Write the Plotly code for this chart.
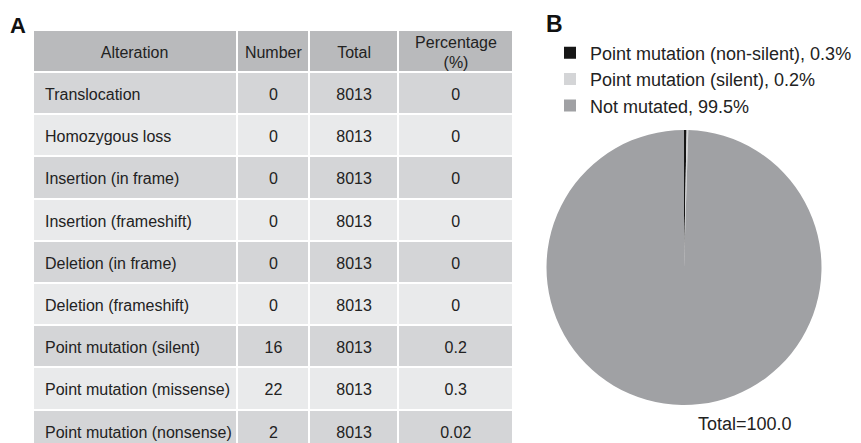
import plotly.graph_objects as go

# ---- data ----
alterations = [
    "Translocation", "Homozygous loss", "Insertion (in frame)", "Insertion (frameshift)",
    "Deletion (in frame)", "Deletion (frameshift)", "Point mutation (silent)",
    "Point mutation (missense)", "Point mutation (nonsense)",
]
numbers = [0, 0, 0, 0, 0, 0, 16, 22, 2]
totals = [8013] * 9
percentages = ["0", "0", "0", "0", "0", "0", "0.2", "0.3", "0.02"]
header_labels = ["Alteration", "Number", "Total", "Percentage", "(%)"]

pie_labels = ["Point mutation (non-silent)", "Point mutation (silent)", "Not mutated"]
pie_values = [0.3, 0.2, 99.5]
pie_colors = ["#161616", "#d4d5d7", "#a0a1a4"]

# ---- layout helpers (figure pixels; page has an 8px body margin) ----
W, H = 861, 470
OFF = 8


def px_x(p):
    return (p - OFF) / W


def px_y(p):
    return 1 - (p - OFF) / H


FONT = "Liberation Sans, Arial, sans-serif"
TXT = "#222222"
CLEAR = "rgba(0,0,0,0)"

col_edges = [33, 237, 310, 399, 514]          # page px
col_w = [b - a for a, b in zip(col_edges[:-1], col_edges[1:])]
TABLE_TOP = 30
HEAD_H = 42
ROW_H = 42.2
TEXT_SHIFT = 8

row_fill = ["#d4d5d7" if i % 2 == 0 else "#e9eaeb" for i in range(len(alterations))]
n = len(alterations)

fig = go.Figure()

# fills / grid
fig.add_trace(go.Table(
    domain=dict(x=[px_x(col_edges[0]), px_x(col_edges[-1])], y=[0, px_y(TABLE_TOP)]),
    columnwidth=col_w,
    header=dict(values=[""] * 4, fill_color="#b9babc",
                line=dict(color="white", width=2), height=HEAD_H,
                font=dict(family=FONT, size=16)),
    cells=dict(values=[[""] * n] * 4, fill_color=[row_fill] * 4,
               line=dict(color="white", width=2), height=ROW_H,
               font=dict(family=FONT, size=16)),
    hoverinfo="skip",
))


def text_table(x0, x1, top, header, cols, align, widths=None):
    return go.Table(
        domain=dict(x=[px_x(x0), px_x(x1)], y=[0, px_y(top)]),
        columnwidth=widths,
        header=dict(values=header, fill_color=CLEAR,
                    line=dict(color=CLEAR, width=2), height=HEAD_H, align=align,
                    font=dict(family=FONT, size=16, color=TXT)),
        cells=dict(values=cols, fill_color=CLEAR,
                   line=dict(color=CLEAR, width=2), height=ROW_H, align=align,
                   font=dict(family=FONT, size=16, color=TXT)),
        hoverinfo="skip",
    )


# Alteration column text (wider box so long labels do not wrap)
fig.add_trace(text_table(col_edges[0] + 4, col_edges[0] + 300, TABLE_TOP + TEXT_SHIFT,
                         [""], [alterations], "left"))
# Alteration header (centered in its column)
fig.add_trace(text_table(col_edges[0], col_edges[1], TABLE_TOP + TEXT_SHIFT,
                         [header_labels[0]], [[]], "center"))
# numeric columns
fig.add_trace(text_table(col_edges[1], col_edges[4], TABLE_TOP + TEXT_SHIFT,
                         header_labels[1:3] + [""], [numbers, totals, percentages],
                         "center", col_w[1:]))
# two-line header cell, one table per line
fig.add_trace(text_table(col_edges[3], col_edges[4], 27.5,
                         [header_labels[3]], [[]], "center"))
fig.add_trace(text_table(col_edges[3], col_edges[4], 47.5,
                         [header_labels[4]], [[]], "center"))

fig.add_trace(go.Pie(
    labels=[f"{l}, {v}%" for l, v in zip(pie_labels, pie_values)],
    values=pie_values,
    marker=dict(colors=pie_colors, line=dict(width=0)),
    sort=False,
    direction="clockwise",
    rotation=0,
    textinfo="none",
    domain=dict(x=[px_x(546), px_x(822)], y=[px_y(405), px_y(130)]),
    showlegend=True,
))

fig.add_annotation(text="<b>A</b>", x=px_x(8), y=px_y(25.5), xref="paper", yref="paper",
                   xanchor="left", yanchor="middle", showarrow=False,
                   font=dict(family=FONT, size=22, color="#111"))
fig.add_annotation(text="<b>B</b>", x=px_x(544), y=px_y(23.5), xref="paper", yref="paper",
                   xanchor="left", yanchor="middle", showarrow=False,
                   font=dict(family=FONT, size=23, color="#111"))
fig.add_annotation(text=f"Total={sum(pie_values):.1f}", x=px_x(745), y=px_y(424),
                   xref="paper", yref="paper", xanchor="center", yanchor="middle",
                   showarrow=False, font=dict(family=FONT, size=18, color=TXT))

fig.update_layout(
    width=W, height=H,
    margin=dict(l=0, r=0, t=0, b=0),
    paper_bgcolor="white",
    plot_bgcolor="white",
    legend=dict(
        x=px_x(550), y=px_y(34.5), xanchor="left", yanchor="top",
        font=dict(family=FONT, size=18, color=TXT),
        bgcolor=CLEAR,
        tracegroupgap=0,
        itemclick=False,
    ),
)

fig.write_html("out.html")
